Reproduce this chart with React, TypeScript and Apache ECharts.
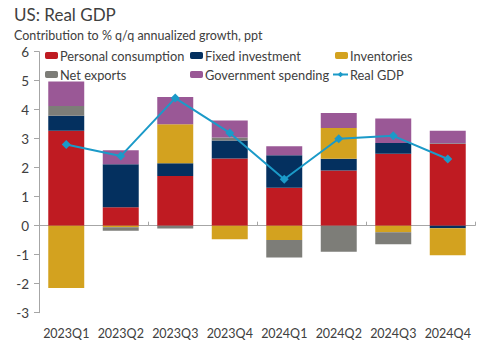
import React, { useEffect, useRef } from "react";
import * as echarts from "echarts";

const categories = ["2023Q1", "2023Q2", "2023Q3", "2023Q4", "2024Q1", "2024Q2", "2024Q3", "2024Q4"];
const personalConsumption = [3.27, 0.64, 1.71, 2.32, 1.31, 1.9, 2.48, 2.82];
const fixedInvestment = [0.52, 1.48, 0.44, 0.62, 1.12, 0.41, 0.37, -0.09];
const inventories = [-2.15, -0.05, 1.35, -0.47, -0.49, 1.06, -0.23, -0.93];
const netExports = [0.34, -0.12, -0.1, 0.1, -0.61, -0.9, -0.41, 0.02];
const governmentSpending = [0.84, 0.48, 0.94, 0.59, 0.31, 0.52, 0.85, 0.43];
const realGDP = [2.8, 2.4, 4.4, 3.2, 1.6, 3.0, 3.1, 2.3];
const yTicks = { min: -3, max: 6, interval: 1 };

const FONT = "Lato";
const TEXT = "#404040";

export default function App() {
  const ref = useRef<HTMLDivElement>(null);
  useEffect(() => {
    const chart = echarts.init(ref.current!, null, { renderer: "svg" });
    const barNames = ["Personal consumption", "Fixed investment", "Inventories", "Net exports", "Government spending"];
    const barData = [personalConsumption, fixedInvestment, inventories, netExports, governmentSpending];
    const colors = ["#BF1B22", "#04305F", "#D3A21F", "#7D7D78", "#9A5896"];
    const legendPos = [
      { name: "Personal consumption", left: 45, top: 49 },
      { name: "Fixed investment", left: 190, top: 49 },
      { name: "Inventories", left: 335, top: 49 },
      { name: "Net exports", left: 45, top: 68 },
      { name: "Government spending", left: 190, top: 68 },
      { name: "Real GDP", left: 332, top: 68 },
    ];
    chart.setOption({
      animation: false,
      title: [
        { text: "US: Real GDP", left: 14, top: 6, padding: 0, textStyle: { fontFamily: FONT, fontSize: 17, fontWeight: "normal", color: TEXT } },
        { text: "Contribution to % q/q annualized growth, ppt", left: 14, top: 29, padding: 0, textStyle: { fontFamily: FONT, fontSize: 12.5, fontWeight: "normal", color: TEXT } },
      ],
      legend: legendPos.map((l) => ({
        data: [l.name],
        left: l.left,
        top: l.top,
        padding: 0,
        itemGap: 0,
        itemWidth: l.name === "Real GDP" ? 15 : 13,
        itemHeight: 7,
        textStyle: { fontFamily: FONT, fontSize: 12.8, color: TEXT, padding: [0, 0, 0, -3] },
      })),
      grid: { left: 39, right: 9, top: 51.7, bottom: 44.3, containLabel: false },
      xAxis: [
        {
          type: "category",
          data: categories,
          axisLine: { onZero: true, lineStyle: { color: "#A6A6A6", width: 1 } },
          axisTick: { show: true, inside: true, length: 4, lineStyle: { color: "#A6A6A6" } },
          axisLabel: { show: false },
        },
        {
          type: "category",
          data: categories,
          position: "bottom",
          axisLine: { show: false, onZero: false },
          axisTick: { show: false },
          axisLabel: { fontFamily: FONT, fontSize: 12.5, color: TEXT, margin: 14, interval: 0 },
        },
      ],
      yAxis: {
        type: "value",
        min: yTicks.min,
        max: yTicks.max,
        interval: yTicks.interval,
        splitLine: { show: false },
        axisLine: { show: true, lineStyle: { color: "#A6A6A6" } },
        axisTick: { show: true, length: 5, lineStyle: { color: "#A6A6A6" } },
        axisLabel: { fontFamily: FONT, fontSize: 13.5, color: TEXT, margin: 10 },
      },
      series: [
        ...barNames.map((name, i) => ({
          name,
          type: "bar",
          stack: "total",
          xAxisIndex: 0,
          data: barData[i],
          barWidth: "66%",
          itemStyle: { color: colors[i] },
        })),
        {
          name: "Real GDP",
          type: "line",
          xAxisIndex: 0,
          data: realGDP,
          symbol: "diamond",
          symbolSize: 9,
          lineStyle: { color: "#1B9AC8", width: 2 },
          itemStyle: { color: "#1B9AC8" },
          z: 10,
        },
      ],
    });
    return () => chart.dispose();
  }, []);
  return <div ref={ref} style={{ width: 484, height: 357, position: "absolute", left: 0, top: 0 }} />;
}
